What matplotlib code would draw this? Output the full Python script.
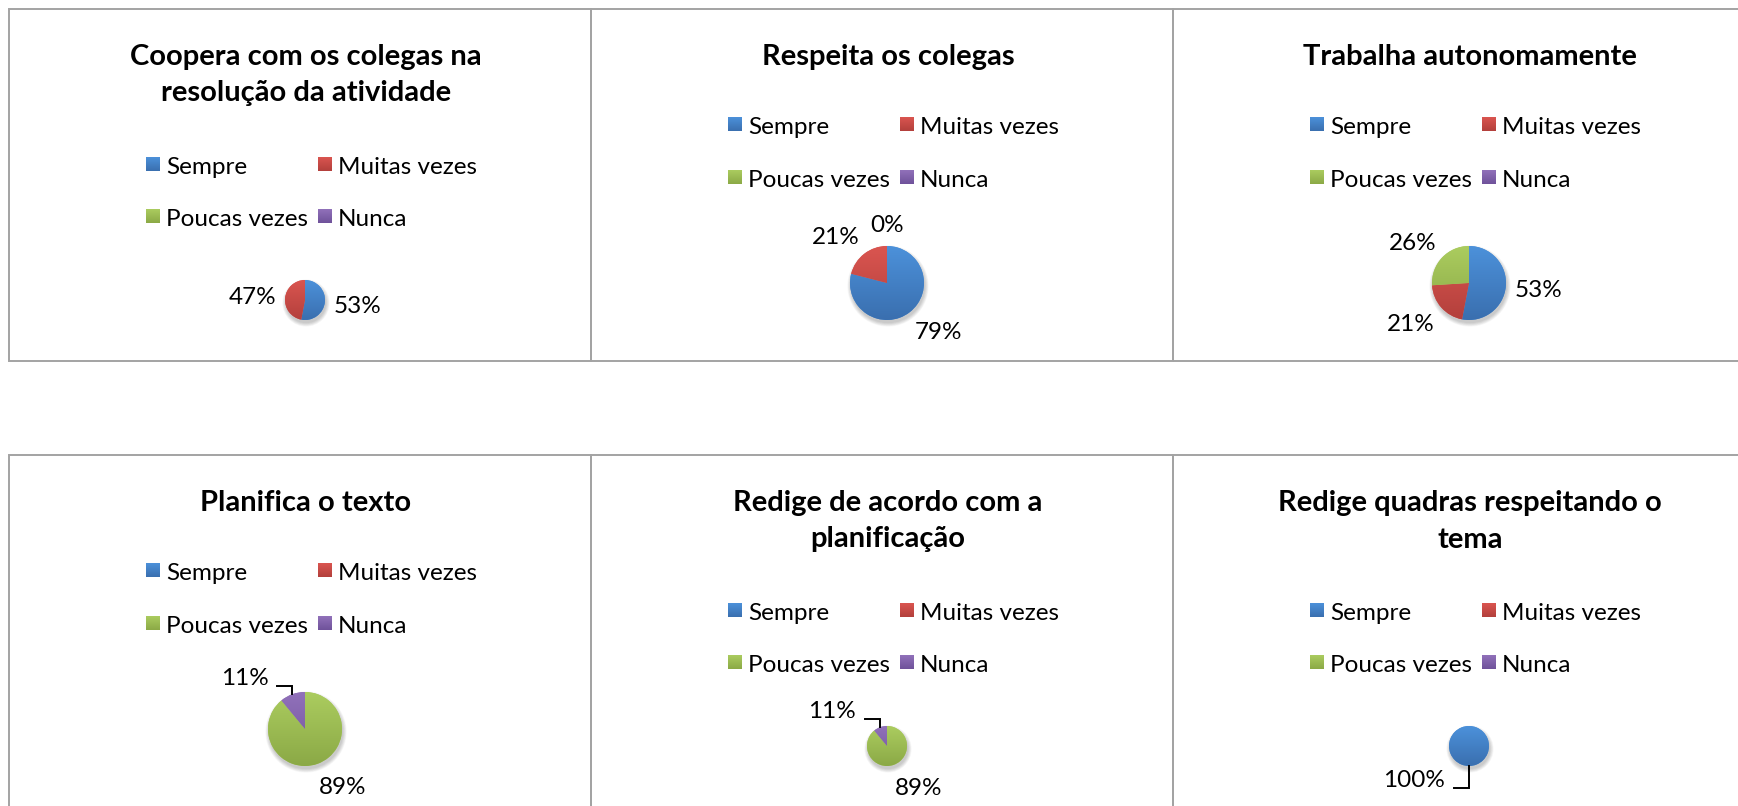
import numpy as np
import matplotlib.pyplot as plt
from matplotlib.patches import Rectangle, Circle
from matplotlib.colors import to_rgb

plt.rcParams['font.family'] = ['Lato', 'DejaVu Sans']

# Tamanho da imagem em píxeis
W, H = 1738, 806

categorias = ['Sempre', 'Muitas vezes', 'Poucas vezes', 'Nunca']
titulos = ['Coopera com os colegas na\nresolução da atividade',
           'Respeita os colegas',
           'Trabalha autonomamente',
           'Planifica o texto',
           'Redige de acordo com a\nplanificação',
           'Redige quadras respeitando o\ntema']

# Percentagens por categoria (None = célula vazia, sem rótulo)
coopera = [53, 47, None, None]
respeita = [79, 21, 0, None]
autonomo = [53, 21, 26, None]
planifica = [None, None, 89, 11]
redige_plan = [None, None, 89, 11]
redige_quadras = [100, None, None, None]
series = [coopera, respeita, autonomo, planifica, redige_plan, redige_quadras]

# Índices das fatias cujo rótulo leva linha de chamada
chamada = [[], [], [], [3], [3], [0]]

# Gradiente (cima, baixo) de cada categoria
cores = [('#4C91DA', '#3A6FAF'),
         ('#DA5550', '#B3403C'),
         ('#ABCC5F', '#8BA946'),
         ('#9171BA', '#6F529A')]

LARG, ALT = 582, 352       # tamanho de cada gráfico
FS_TIT, FS_TXT = 21, 17.5


def Y(y):
    """Converte coordenada de ecrã (para baixo) em coordenada do eixo."""
    return H - y


def gradiente(ax, patch, c1, c2, ext, z):
    """Preenche o patch com um gradiente vertical de c1 (cima) para c2 (baixo)."""
    t = np.linspace(0, 1, 64)[:, None, None]
    img = np.array(to_rgb(c1)) * (1 - t) + np.array(to_rgb(c2)) * t
    im = ax.imshow(img, extent=ext, origin='upper', aspect='auto',
                   interpolation='bilinear', zorder=z)
    im.set_clip_path(patch)


fig = plt.figure(figsize=(W / 100, H / 100), dpi=100)
ax = fig.add_axes([0, 0, 1, 1])
ax.set_xlim(0, W)
ax.set_ylim(0, H)
ax.set_autoscale_on(False)

for k, serie in enumerate(series):
    x0 = 9 + LARG * (k % 3)
    y0 = 9 + 446 * (k // 3)
    duas = '\n' in titulos[k]

    # moldura
    ax.add_patch(Rectangle((x0, Y(y0 + ALT)), LARG, ALT, fill=False,
                           edgecolor='#A3A3A3', linewidth=1.4, zorder=5))

    # título
    ax.text(x0 + 297, Y(y0 + 35), titulos[k], ha='center', va='top',
            fontsize=FS_TIT, fontweight='bold', linespacing=1.5)

    # legenda em duas colunas
    linhas = [155, 207] if duas else [115, 168]
    for i, cat in enumerate(categorias):
        lx = x0 + [137, 309][i % 2]
        ly = y0 + linhas[i // 2]
        q = Rectangle((lx, Y(ly + 7)), 14, 14, facecolor=cores[i][0],
                      linewidth=0, zorder=3)
        ax.add_patch(q)
        gradiente(ax, q, cores[i][0], cores[i][1],
                  (lx, lx + 14, Y(ly + 7), Y(ly - 7)), 4)
        ax.text(lx + 20, Y(ly + 10), cat, ha='left', va='baseline',
                fontsize=FS_TXT)

    # gráfico circular
    r = 20 if duas else 37
    cx, cy = x0 + 296, Y(y0 + 311 - r)
    for j in range(7):
        ax.add_patch(Circle((cx + 1, cy - 3), r + 0.6 * j, color='black',
                            alpha=0.03, linewidth=0, zorder=1))
    vals = [v if v is not None else 0 for v in serie]
    wedges, _ = ax.pie(vals, center=(cx, cy), radius=r, startangle=90,
                       counterclock=False, frame=True,
                       colors=[c[0] for c in cores],
                       wedgeprops=dict(linewidth=0, zorder=2))
    ext = (cx - r, cx + r, cy - r, cy + r)
    for i, w in enumerate(wedges):
        if vals[i] > 0:
            gradiente(ax, w, cores[i][0], cores[i][1], ext, 3)

    # rótulos de percentagem
    for i, (w, v) in enumerate(zip(wedges, serie)):
        if v is None:
            continue
        m = np.deg2rad((w.theta1 + w.theta2) / 2)
        dx, dy = np.cos(m), np.sin(m)
        txt = f'{v}%'
        if i in chamada[k]:
            px, py = cx + r * dx, cy + r * dy
            hy = py + 8 if dy > 0 else py - 22
            ax.plot([px, px, px - 15], [py, hy, hy], color='black',
                    linewidth=1.4, zorder=4, solid_joinstyle='miter')
            ax.text(px - 24, hy + 1, txt, ha='right', va='baseline',
                    fontsize=FS_TXT)
        else:
            sx = np.sign(dx) if abs(dx) > 0.05 else 0
            tx = cx + (r + 12) * dx + 7 * len(txt) * sx
            ty = cy + (r + 12) * dy + 11 * dy - 2
            ax.text(tx, ty, txt, ha='center', va='center', fontsize=FS_TXT)

ax.set_xlim(0, W)
ax.set_ylim(0, H)
ax.set_axis_off()
fig.savefig('out.png', dpi=100, facecolor='white')
